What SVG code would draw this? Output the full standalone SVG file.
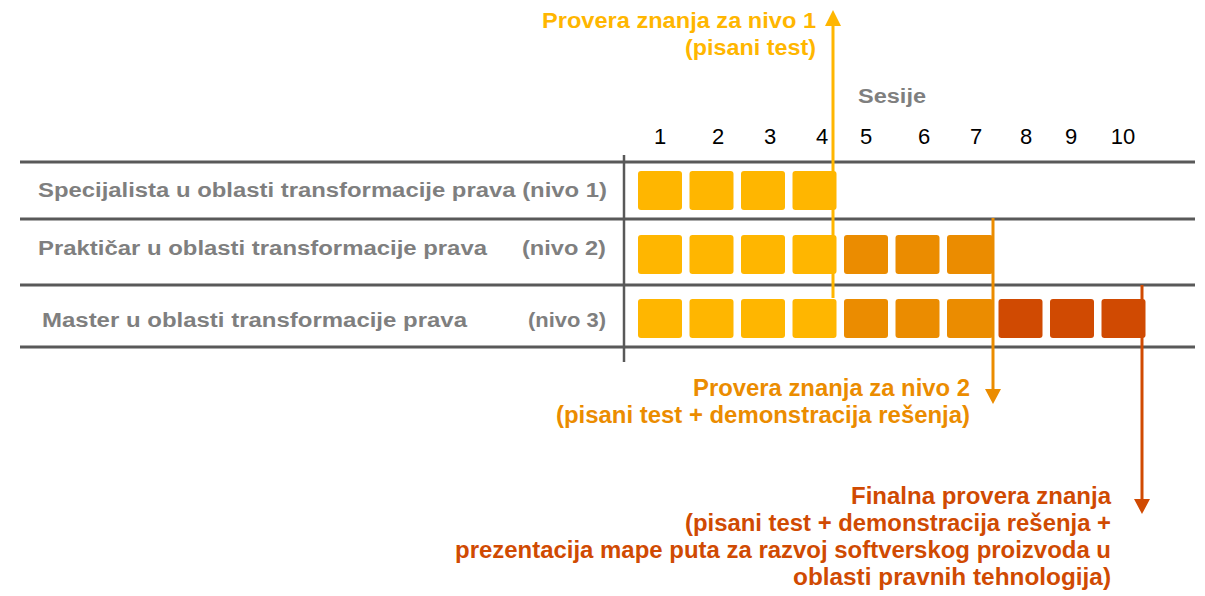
<svg xmlns="http://www.w3.org/2000/svg" width="1205" height="596" viewBox="0 0 1205 596">
<defs>
<style>
.grid{stroke:#595959;stroke-width:3;fill:none}
.lbl{font-family:"Liberation Sans",Arial,sans-serif;font-weight:bold;font-size:20px;fill:#7f7f7f}
.num{font-family:"Liberation Sans",Arial,sans-serif;font-size:22px;fill:#000;text-anchor:middle}
.ann{font-family:"Liberation Sans",Arial,sans-serif;font-weight:bold;font-size:22px}
.big{font-size:23px}
.y{fill:#ffb600}.o{fill:#eb8c00}.t{fill:#d04a02}
</style>
</defs>
<rect width="1205" height="596" fill="#fff"/>
<g id="grid">
<line class="grid" x1="20" y1="162" x2="1195" y2="162"/>
<line class="grid" x1="20" y1="219" x2="1195" y2="219"/>
<line class="grid" x1="20" y1="285" x2="1195" y2="285"/>
<line class="grid" x1="20" y1="347" x2="1195" y2="347"/>
<line class="grid" style="stroke-width:2.5" x1="624" y1="155" x2="624" y2="362"/>
</g>
<g id="header">
<text class="lbl" x="858" y="103" textLength="68" lengthAdjust="spacingAndGlyphs">Sesije</text>
<text class="num" x="660" y="144">1</text>
<text class="num" x="718" y="144">2</text>
<text class="num" x="770" y="144">3</text>
<text class="num" x="822" y="144">4</text>
<text class="num" x="866" y="144">5</text>
<text class="num" x="924" y="144">6</text>
<text class="num" x="976" y="144">7</text>
<text class="num" x="1026" y="144">8</text>
<text class="num" x="1071" y="144">9</text>
<text class="num" x="1123" y="144">10</text>
</g>
<g id="row1">
<text class="lbl" x="38" y="197" textLength="569" lengthAdjust="spacingAndGlyphs">Specijalista u oblasti transformacije prava (nivo 1)</text>
<rect class="y" x="638" y="171" width="44" height="39" rx="3"/>
<rect class="y" x="689.5" y="171" width="44" height="39" rx="3"/>
<rect class="y" x="741" y="171" width="44" height="39" rx="3"/>
<rect class="y" x="792.5" y="171" width="44" height="39" rx="3"/>
</g>
<g id="row2">
<text class="lbl" x="38" y="255" textLength="449" lengthAdjust="spacingAndGlyphs">Praktičar u oblasti transformacije prava</text>
<text class="lbl" x="522" y="255" textLength="84" lengthAdjust="spacingAndGlyphs">(nivo 2)</text>
<rect class="y" x="638" y="235" width="44" height="39" rx="3"/>
<rect class="y" x="689.5" y="235" width="44" height="39" rx="3"/>
<rect class="y" x="741" y="235" width="44" height="39" rx="3"/>
<rect class="y" x="792.5" y="235" width="44" height="39" rx="3"/>
<rect class="o" x="844" y="235" width="44" height="39" rx="3"/>
<rect class="o" x="895.5" y="235" width="44" height="39" rx="3"/>
<rect class="o" x="947" y="235" width="46" height="39" rx="3"/>
</g>
<g id="row3">
<text class="lbl" x="42" y="327" textLength="425" lengthAdjust="spacingAndGlyphs">Master u oblasti transformacije prava</text>
<text class="lbl" x="528" y="327" textLength="78" lengthAdjust="spacingAndGlyphs">(nivo 3)</text>
<rect class="y" x="638" y="299" width="44" height="39" rx="3"/>
<rect class="y" x="689.5" y="299" width="44" height="39" rx="3"/>
<rect class="y" x="741" y="299" width="44" height="39" rx="3"/>
<rect class="y" x="792.5" y="299" width="44" height="39" rx="3"/>
<rect class="o" x="844" y="299" width="44" height="39" rx="3"/>
<rect class="o" x="895.5" y="299" width="44" height="39" rx="3"/>
<rect class="o" x="947" y="299" width="46" height="39" rx="3"/>
<rect class="t" x="998.5" y="299" width="44" height="39" rx="3"/>
<rect class="t" x="1050" y="299" width="44" height="39" rx="3"/>
<rect class="t" x="1101.5" y="299" width="44" height="39" rx="3"/>
</g>
<g id="connectors">
<line x1="833" y1="298" x2="833" y2="24" stroke="#ffb600" stroke-width="3"/>
<path d="M825,26 L833,10 L841,26 Z" fill="#ffb600"/>
<line x1="993" y1="218" x2="993" y2="391" stroke="#eb8c00" stroke-width="3"/>
<path d="M985,389 L993,404 L1001,389 Z" fill="#eb8c00"/>
<line x1="1142" y1="285" x2="1142" y2="501" stroke="#d04a02" stroke-width="3"/>
<path d="M1134,499 L1142,514 L1150,499 Z" fill="#d04a02"/>
</g>
<g id="note1">
<text class="ann y" x="816" y="28" text-anchor="end" textLength="274" lengthAdjust="spacingAndGlyphs">Provera znanja za nivo 1</text>
<text class="ann y" x="816" y="55" text-anchor="end" textLength="131" lengthAdjust="spacingAndGlyphs">(pisani test)</text>
</g>
<g id="note2">
<text class="ann big o" x="970" y="396" text-anchor="end" textLength="277" lengthAdjust="spacingAndGlyphs">Provera znanja za nivo 2</text>
<text class="ann big o" x="970" y="423" text-anchor="end" textLength="414" lengthAdjust="spacingAndGlyphs">(pisani test + demonstracija rešenja)</text>
</g>
<g id="note3">
<text class="ann big t" x="1111" y="504" text-anchor="end" textLength="260" lengthAdjust="spacingAndGlyphs">Finalna provera znanja</text>
<text class="ann big t" x="1111" y="531" text-anchor="end" textLength="426" lengthAdjust="spacingAndGlyphs">(pisani test + demonstracija rešenja +</text>
<text class="ann big t" x="1111" y="558" text-anchor="end" textLength="656" lengthAdjust="spacingAndGlyphs">prezentacija mape puta za razvoj softverskog proizvoda u</text>
<text class="ann big t" x="1111" y="585" text-anchor="end" textLength="318" lengthAdjust="spacingAndGlyphs">oblasti pravnih tehnologija)</text>
</g>
</svg>
